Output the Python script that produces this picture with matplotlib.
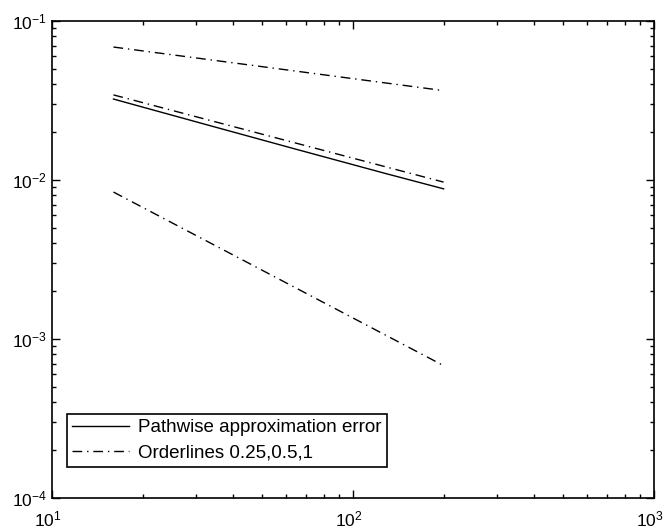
import matplotlib
matplotlib.use("Agg")
import matplotlib.pyplot as plt
import matplotlib.transforms as mtransforms

plt.rcParams['font.family'] = ['Liberation Sans', 'DejaVu Sans']
plt.rcParams['mathtext.fontset'] = 'custom'
plt.rcParams['mathtext.rm'] = 'Liberation Sans'

# Data
N_err = [16, 32, 64, 128, 200]
err = [0.0323, 0.0225, 0.0157, 0.0110, 0.0088]

N_order = [16, 200]
order_025 = [0.0686, 0.0365]
order_05 = [0.0343, 0.0097]
order_1 = [0.0084, 0.00068]

fig = plt.figure(figsize=(6.67, 5.28), dpi=100)
ax = fig.add_axes([0.078, 0.0568, 0.9025, 0.9034])

dash = (0, (7, 3.5, 1, 3.5))
ax.loglog(N_err, err, color='black', lw=1.0, label='Pathwise approximation error')
ax.loglog(N_order, order_025, color='black', lw=1.0, linestyle=dash, label='Orderlines 0.25,0.5,1')
ax.loglog(N_order, order_05, color='black', lw=1.0, linestyle=dash)
ax.loglog(N_order, order_1, color='black', lw=1.0, linestyle=dash)

ax.set_xlim(10, 1000)
ax.set_ylim(1e-4, 1e-1)
ax.tick_params(which='both', direction='in', top=True, right=True, labelsize=12.5, width=1)
ax.tick_params(which='major', length=6)
ax.tick_params(which='minor', length=3)
ax.tick_params(axis='x', pad=8)
for s in ax.spines.values():
    s.set_linewidth(1.2)

# shift x tick labels slightly left so the base "10" sits under the tick
offset = mtransforms.ScaledTranslation(-4 / 100, 0, fig.dpi_scale_trans)
for lab in ax.get_xticklabels():
    lab.set_transform(lab.get_transform() + offset)

leg = ax.legend(loc='lower left', bbox_to_anchor=(0.025, 0.065), borderaxespad=0,
                fontsize=13.5, fancybox=False, framealpha=1, edgecolor='black',
                handlelength=3.0, borderpad=0.28, labelspacing=0.44, handletextpad=0.5)
leg.get_frame().set_linewidth(1.2)

fig.savefig('out.png', dpi=100)
